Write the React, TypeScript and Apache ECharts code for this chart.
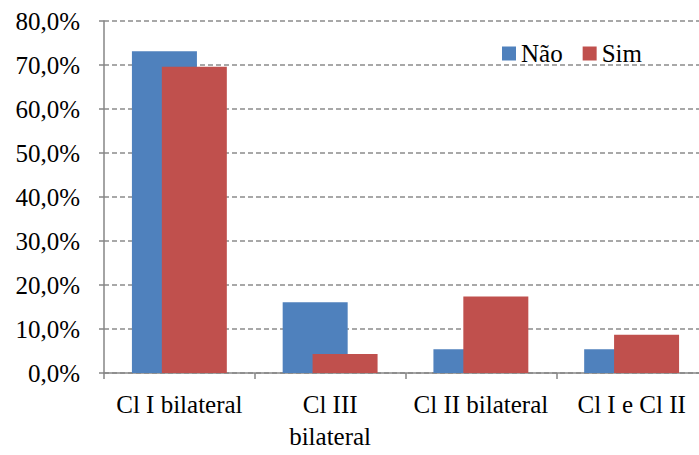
import React, { useEffect, useRef } from "react";
import * as echarts from "echarts";

const categories = ["Cl I bilateral", "Cl III\nbilateral", "Cl II bilateral", "Cl I e Cl II"];
const naoValues = [73.1, 16.1, 5.4, 5.4];
const simValues = [69.6, 4.3, 17.4, 8.7];
const seriesNames = ["Não", "Sim"];

export default function App() {
  const ref = useRef<HTMLDivElement>(null);
  useEffect(() => {
    document.body.style.margin = "0";
    const chart = echarts.init(ref.current!, null, { renderer: "svg" });
    const font = "'Times New Roman', 'Liberation Serif', serif";
    chart.setOption({
      animation: false,
      backgroundColor: "#ffffff",
      textStyle: { fontFamily: font },
      grid: { left: 104, top: 21, bottom: 82, right: 13, containLabel: false },
      legend: {
        left: 497,
        top: 36,
        icon: "rect",
        itemWidth: 14,
        itemHeight: 14,
        itemGap: 20,
        textStyle: { fontFamily: font, fontSize: 25, color: "#000" },
        data: seriesNames,
      },
      xAxis: {
        type: "category",
        data: categories,
        axisLine: { lineStyle: { color: "#868686", width: 1.5 } },
        axisTick: { show: true, length: 6, lineStyle: { color: "#868686", width: 1.5 } },
        axisLabel: {
          fontFamily: font,
          fontSize: 25,
          color: "#000",
          margin: 15,
          lineHeight: 32,
          interval: 0,
        },
      },
      yAxis: {
        type: "value",
        min: 0,
        max: 80,
        interval: 10,
        axisLine: { show: true, lineStyle: { color: "#868686", width: 1.5 } },
        axisTick: { show: true, length: 5, lineStyle: { color: "#868686", width: 1.5 } },
        splitLine: { lineStyle: { color: "#8c8c8c", type: [5, 3], width: 1.5 } },
        axisLabel: {
          fontFamily: font,
          fontSize: 25,
          color: "#000",
          margin: 24,
          formatter: (v: number) => v.toFixed(1).replace(".", ",") + "%",
        },
      },
      series: [
        {
          name: seriesNames[0],
          type: "bar",
          data: naoValues,
          barWidth: 65,
          barGap: "-54%",
          itemStyle: { color: "#4F81BD" },
        },
        {
          name: seriesNames[1],
          type: "bar",
          data: simValues,
          barWidth: 65,
          barGap: "-54%",
          itemStyle: { color: "#C0504D" },
        },
      ],
    });
    return () => chart.dispose();
  }, []);
  return (
    <div style={{ width: 699, height: 455, overflow: "hidden" }}>
      <div ref={ref} style={{ width: 720, height: 455 }} />
    </div>
  );
}
